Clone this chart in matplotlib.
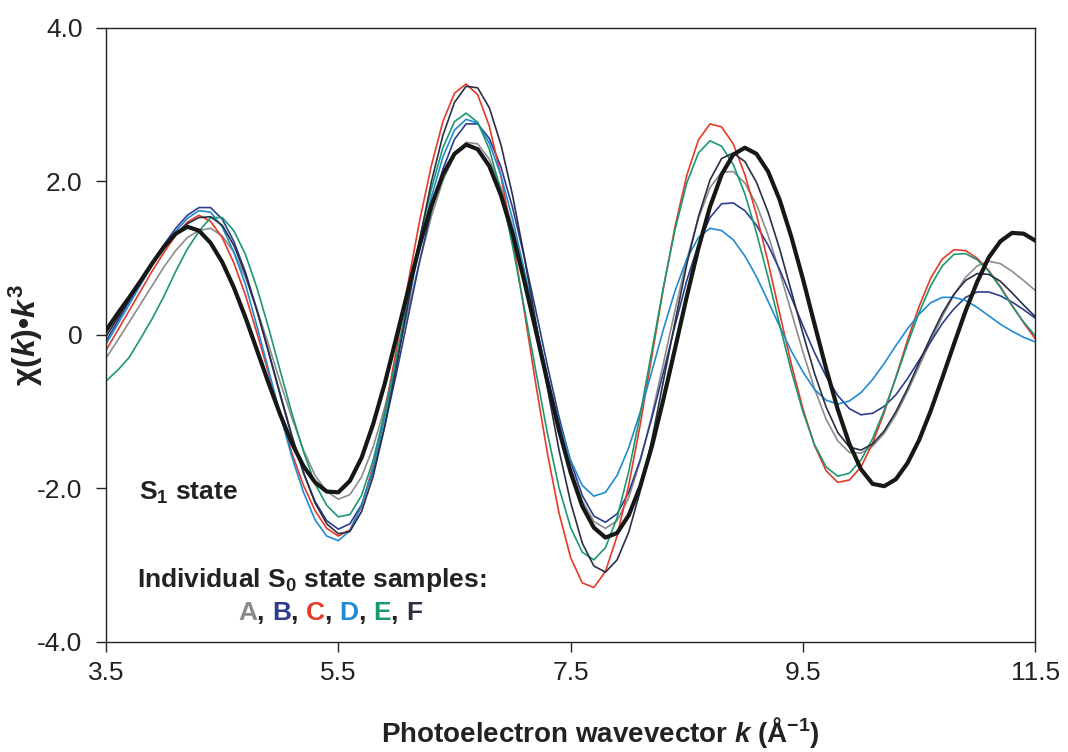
import numpy as np
import matplotlib
matplotlib.use("Agg")
from matplotlib import pyplot as plt
from matplotlib import font_manager

# photoelectron wavevector grid (1/Angstrom), values read every 0.1
k = np.linspace(3.5, 11.5, 81)

# S1 state (thick black)
s1 = [0.06, 0.28, 0.49, 0.71, 0.94, 1.15, 1.32, 1.41,
      1.36, 1.20, 0.95, 0.62, 0.23, -0.20, -0.63, -1.04, -1.41, -1.71, -1.92, -2.04,
      -2.05, -1.90, -1.60, -1.16, -0.63, -0.03, 0.58, 1.17, 1.68, 2.09, 2.36, 2.48,
      2.42, 2.20, 1.82, 1.32, 0.71, 0.06, -0.61, -1.24, -1.79, -2.23, -2.51, -2.64,
      -2.58, -2.35, -1.97, -1.45, -0.83, -0.17, 0.50, 1.13, 1.67, 2.09, 2.35, 2.44,
      2.36, 2.13, 1.76, 1.28, 0.73, 0.14, -0.44, -0.97, -1.42, -1.75, -1.94,
      -1.97, -1.88, -1.67, -1.37, -0.99, -0.56, -0.12, 0.31, 0.69, 1.01, 1.22, 1.33, 1.32, 1.23]

# individual S0 state samples
sample_a = [-0.30, -0.07, 0.17, 0.41, 0.65, 0.89, 1.10, 1.27, 1.36, 1.39,
            1.29, 1.08, 0.75, 0.33, -0.13, -0.62, -1.08, -1.50, -1.83, -2.04, -2.14,
            -2.08, -1.85, -1.46, -0.94, -0.33, 0.32, 0.96, 1.54, 2.01, 2.34, 2.51,
            2.49, 2.29, 1.92, 1.41, 0.80, 0.13, -0.54, -1.18, -1.73, -2.16, -2.43, -2.52,
            -2.42, -2.12, -1.64, -1.04, -0.36, 0.33, 0.98, 1.52, 1.92, 2.12,
            2.13, 1.98, 1.70, 1.30, 0.82, 0.30, -0.22, -0.70, -1.10, -1.38, -1.53,
            -1.54, -1.45, -1.28, -1.04, -0.74, -0.41, -0.08, 0.24, 0.52, 0.75, 0.90, 0.96,
            0.93, 0.83, 0.71, 0.58]
sample_b = [-0.08, 0.18, 0.44, 0.70, 0.95, 1.18, 1.39, 1.56, 1.66,
            1.66, 1.51, 1.22, 0.82, 0.32, -0.23, -0.79, -1.33, -1.80, -2.17, -2.42, -2.53,
            -2.46, -2.21, -1.77, -1.18, -0.50, 0.23, 0.96, 1.61, 2.16, 2.55, 2.75,
            2.75, 2.56, 2.19, 1.66, 1.02, 0.32, -0.40, -1.07, -1.65, -2.09, -2.36, -2.44,
            -2.33, -2.05, -1.62, -1.08, -0.48, 0.13, 0.71, 1.18, 1.53, 1.71,
            1.72, 1.62, 1.43, 1.17, 0.85, 0.49, 0.12, -0.23, -0.54, -0.79, -0.96, -1.04,
            -1.02, -0.93, -0.78, -0.57, -0.33, -0.09, 0.15, 0.34, 0.49, 0.56,
            0.56, 0.51, 0.43, 0.33, 0.22]
sample_c = [-0.20, 0.06, 0.32, 0.58, 0.84, 1.08, 1.30, 1.47, 1.56,
            1.48, 1.27, 0.94, 0.52, 0.02, -0.50, -1.03, -1.54, -1.96, -2.29, -2.52, -2.62,
            -2.54, -2.23, -1.70, -1.00, -0.19, 0.67, 1.49, 2.20, 2.78, 3.15, 3.27,
            3.13, 2.72, 2.07, 1.26, 0.32, -0.64, -1.54, -2.32, -2.90, -3.23, -3.29,
            -3.08, -2.62, -1.96, -1.16, -0.27, 0.62, 1.42, 2.08, 2.54, 2.75,
            2.71, 2.49, 2.09, 1.57, 0.95, 0.28, -0.38, -0.96, -1.44, -1.77, -1.92,
            -1.89, -1.72, -1.41, -1.01, -0.55, -0.07, 0.37, 0.74, 0.99, 1.11,
            1.10, 1.00, 0.84, 0.63, 0.39, 0.16, -0.05]
sample_d = [-0.12, 0.14, 0.40, 0.66, 0.91, 1.14, 1.35, 1.52, 1.62,
            1.60, 1.41, 1.08, 0.66, 0.11, -0.46, -1.04, -1.59, -2.05, -2.41, -2.62, -2.68,
            -2.55, -2.22, -1.74, -1.08, -0.35, 0.41, 1.15, 1.79, 2.32, 2.67, 2.81,
            2.76, 2.50, 2.08, 1.51, 0.85, 0.15, -0.54, -1.14, -1.63, -1.96, -2.10,
            -2.05, -1.83, -1.47, -1.00, -0.47, 0.08, 0.58, 0.99, 1.27, 1.39,
            1.36, 1.24, 1.03, 0.76, 0.44, 0.11, -0.21, -0.48, -0.71, -0.85, -0.90,
            -0.86, -0.75, -0.58, -0.37, -0.14, 0.08, 0.27, 0.42, 0.49,
            0.49, 0.45, 0.36, 0.25, 0.14, 0.05, -0.03, -0.09]
sample_e = [-0.60, -0.46, -0.29, -0.04, 0.22, 0.51, 0.83, 1.12, 1.35, 1.53,
            1.53, 1.36, 1.05, 0.61, 0.09, -0.47, -1.02, -1.52, -1.94, -2.22, -2.37,
            -2.34, -2.09, -1.63, -1.01, -0.29, 0.49, 1.25, 1.90, 2.44, 2.78, 2.89,
            2.77, 2.42, 1.87, 1.16, 0.36, -0.47, -1.28, -1.99, -2.51, -2.83, -2.93,
            -2.77, -2.38, -1.78, -1.03, -0.20, 0.63, 1.38, 1.98, 2.37, 2.53,
            2.46, 2.22, 1.84, 1.33, 0.75, 0.13, -0.47, -1.00, -1.43, -1.72, -1.84,
            -1.80, -1.63, -1.35, -0.98, -0.56, -0.12, 0.29, 0.64, 0.90, 1.05,
            1.06, 0.98, 0.83, 0.62, 0.38, 0.17, -0.01]
sample_f = [-0.02, 0.22, 0.46, 0.70, 0.93, 1.14, 1.32, 1.45, 1.53,
            1.54, 1.43, 1.17, 0.79, 0.31, -0.22, -0.77, -1.31, -1.79, -2.19, -2.46, -2.59,
            -2.56, -2.30, -1.84, -1.19, -0.41, 0.41, 1.24, 1.99, 2.60, 3.03, 3.24,
            3.22, 2.96, 2.48, 1.82, 1.03, 0.17, -0.69, -1.50, -2.18, -2.71, -3.01, -3.09,
            -2.93, -2.57, -2.03, -1.36, -0.59, 0.18, 0.92, 1.54, 2.02, 2.30, 2.37,
            2.26, 1.99, 1.60, 1.12, 0.57, 0.02, -0.50, -0.94, -1.27, -1.46, -1.50,
            -1.42, -1.25, -1.00, -0.70, -0.36, -0.03, 0.28, 0.53, 0.71, 0.80,
            0.79, 0.70, 0.55, 0.39, 0.24]

sample_names = ["A", "B", "C", "D", "E", "F"]
samples = [sample_a, sample_b, sample_c, sample_d, sample_e, sample_f]
sample_colors = ["#8c8c8c", "#2c3d8e", "#e5392a", "#1f8bd3", "#1b9872", "#2a2f44"]

x_ticks = [3.5, 5.5, 7.5, 9.5, 11.5]
y_ticks = [-4.0, -2.0, 0.0, 2.0, 4.0]
y_tick_labels = ["-4.0", "-2.0", "0", "2.0", "4.0"]

# fonts: condensed look if narrow face exists
names = {f.name for f in font_manager.fontManager.ttflist}
narrow = "Liberation Sans Narrow" if "Liberation Sans Narrow" in names else "Liberation Sans"
plt.rcParams["font.family"] = ["Liberation Sans", "DejaVu Sans"]
plt.rcParams["mathtext.fontset"] = "custom"
plt.rcParams["mathtext.rm"] = "Liberation Sans:bold"
plt.rcParams["mathtext.it"] = "Liberation Sans:italic:bold"
plt.rcParams["mathtext.bf"] = "Liberation Sans:bold"

fig = plt.figure(figsize=(10.68, 7.52), dpi=100)
ax = fig.add_axes([0.0993, 0.1463, 0.8700, 0.8165])

for vals, col in zip(samples, sample_colors):
    ax.plot(k, vals, color=col, lw=1.2, zorder=2, solid_joinstyle="round")
ax.plot(k, s1, color="#151815", lw=3.0, zorder=3, solid_joinstyle="round")

ax.set_xlim(3.5, 11.5)
ax.set_ylim(-4.0, 4.0)
ax.set_xticks(x_ticks)
ax.set_xticklabels([str(t) for t in x_ticks])
ax.set_yticks(y_ticks)
ax.set_yticklabels(y_tick_labels)
ax.tick_params(direction="out", length=7, width=1, labelsize=19, colors="#222222")
ax.tick_params(axis="y", pad=10)
ax.tick_params(axis="x", pad=7)
for sp in ax.spines.values():
    sp.set_linewidth(1.0)
    sp.set_color("#222222")

ax.set_xlabel(r"Photoelectron wavevector $k$ (Å$^{-1}$)", fontsize=20,
              fontweight="bold", family=[narrow, "DejaVu Sans"], color="#222222")
ax.xaxis.set_label_coords(0.532, -0.119)
ax.set_ylabel(r"χ($k$)•$k^3$", fontsize=23, fontweight="bold",
              family=[narrow, "DejaVu Sans"], color="#222222")
ax.yaxis.set_label_coords(-0.066, 0.5)

ax.text(3.78, -2.06, r"S$_1$ state", fontsize=19, fontweight="bold",
        color="#222222", va="center", ha="left")
ax.text(3.77, -3.19, r"Individual S$_0$ state samples:", fontsize=19,
        fontweight="bold", color="#222222", va="center", ha="left")

# coloured sample letters, chained one after another
prev = ax.text(4.64, -3.62, sample_names[0], fontsize=19, fontweight="bold",
               color=sample_colors[0], va="center", ha="left")
for i in range(1, len(sample_names)):
    comma = ax.annotate(", ", xy=(1, 0), xycoords=prev, fontsize=19, fontweight="bold",
                        color="#222222", va="bottom", ha="left")
    prev = ax.annotate(sample_names[i], xy=(1, 0), xycoords=comma, fontsize=19,
                       fontweight="bold", color=sample_colors[i], va="bottom", ha="left")

fig.savefig("out.png", dpi=100)
